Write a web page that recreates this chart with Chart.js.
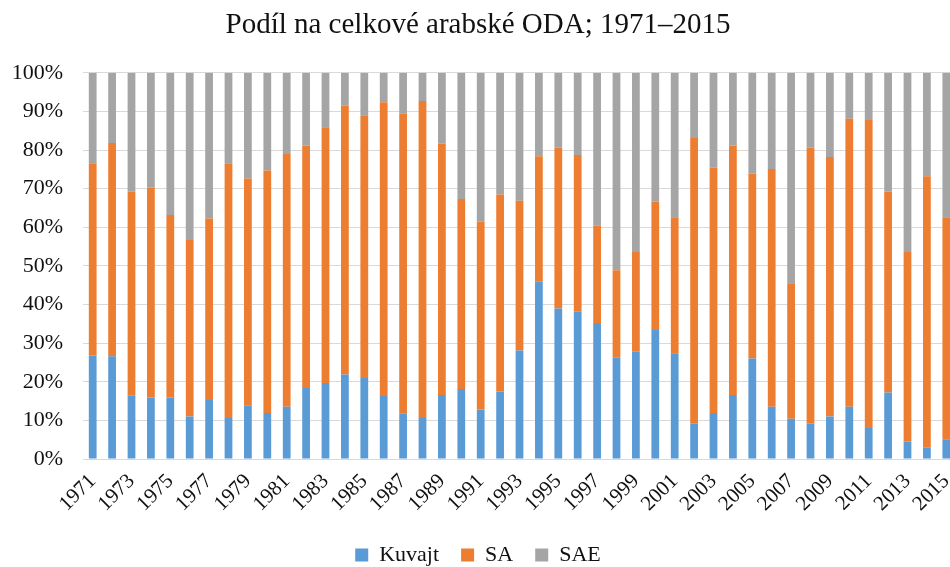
<!DOCTYPE html>
<html>
<head>
<meta charset="utf-8">
<script src="https://cdn.jsdelivr.net/npm/chart.js"></script>
<style>
  html, body { margin: 0; padding: 0; background: #fff; overflow: hidden; }
  #wrap { width: 950px; height: 567px; overflow: hidden; }
</style>
</head>
<body>
<div id="wrap"><canvas id="chart" width="975" height="576"></canvas></div>
<script>
const years = [1971, 1972, 1973, 1974, 1975, 1976, 1977, 1978, 1979, 1980,
  1981, 1982, 1983, 1984, 1985, 1986, 1987, 1988, 1989, 1990,
  1991, 1992, 1993, 1994, 1995, 1996, 1997, 1998, 1999, 2000,
  2001, 2002, 2003, 2004, 2005, 2006, 2007, 2008, 2009, 2010,
  2011, 2012, 2013, 2014, 2015];

// podíly v % (čteno z grafu)
const kuvajt = [26.8, 26.6, 16.4, 15.9, 15.9, 11.0, 15.3, 10.6, 13.8, 11.9,
  13.5, 18.4, 19.7, 21.9, 21.0, 16.3, 11.7, 10.6, 16.6, 18.1,
  12.8, 17.5, 28.1, 45.9, 39.0, 38.1, 35.2, 26.2, 27.8, 33.4,
  27.4, 9.1, 11.9, 16.6, 26.0, 13.5, 10.4, 9.1, 11.0, 13.5,
  8.0, 17.2, 4.5, 2.9, 5.1];

const sa = [49.8, 55.2, 52.8, 54.4, 47.3, 45.7, 47.0, 66.0, 58.8, 62.8,
  65.5, 62.8, 66.2, 69.6, 68.0, 76.1, 77.7, 82.1, 65.0, 49.2,
  48.6, 51.0, 38.8, 32.5, 41.6, 40.6, 25.2, 22.7, 25.8, 33.3,
  35.2, 74.0, 63.5, 64.6, 47.9, 61.6, 35.1, 71.5, 67.2, 74.6,
  79.8, 52.0, 49.1, 70.3, 57.5];

const sae = [23.4, 18.2, 30.8, 29.7, 36.8, 43.3, 37.7, 23.4, 27.4, 25.3,
  21.0, 18.8, 14.1, 8.5, 11.0, 7.6, 10.6, 7.3, 18.4, 32.7,
  38.6, 31.5, 33.1, 21.6, 19.4, 21.3, 39.6, 51.1, 46.4, 33.3,
  37.4, 16.9, 24.6, 18.8, 26.1, 24.9, 54.5, 19.4, 21.8, 11.9,
  12.2, 30.8, 46.4, 26.8, 37.4];

const serif = '"Liberation Serif", "Times New Roman", serif';

new Chart(document.getElementById('chart'), {
  type: 'bar',
  data: {
    labels: years.map(String),
    datasets: [
      { label: 'Kuvajt', data: kuvajt, backgroundColor: '#5B9BD5' },
      { label: 'SA', data: sa, backgroundColor: '#ED7D31' },
      { label: 'SAE', data: sae, backgroundColor: '#A5A5A5' }
    ]
  },
  options: {
    responsive: false,
    animation: false,
    layout: { padding: { left: 0, right: 19, top: 0, bottom: 0 } },
    datasets: {
      bar: { categoryPercentage: 1.0, barPercentage: 0.4 }
    },
    plugins: {
      title: {
        display: true,
        text: 'Podíl na celkové arabské ODA; 1971–2015',
        color: '#111',
        font: { family: serif, size: 29, weight: 'normal' },
        padding: { top: 8, bottom: 30 }
      },
      legend: {
        position: 'bottom',
        labels: {
          color: '#111',
          font: { family: serif, size: 22 },
          boxWidth: 13,
          boxHeight: 13,
          padding: 22
        }
      },
      tooltip: { enabled: false }
    },
    scales: {
      x: {
        stacked: true,
        grid: { display: false },
        border: { display: false },
        ticks: {
          autoSkip: false,
          maxRotation: 45,
          minRotation: 45,
          color: '#111',
          font: { family: serif, size: 21 },
          padding: 2,
          callback: function (v, i) { return i % 2 === 0 ? years[i] : ''; }
        },
        afterFit: function (s) { s.height = 63; }
      },
      y: {
        stacked: true,
        min: 0,
        max: 100,
        grid: { color: '#D9D9D9', lineWidth: 1, drawTicks: false },
        border: { display: false },
        ticks: {
          stepSize: 10,
          color: '#111',
          font: { family: serif, size: 22 },
          padding: 20,
          callback: function (v) { return v + '%'; }
        },
        afterFit: function (s) { s.width = 83; }
      }
    }
  }
});
</script>
</body>
</html>
